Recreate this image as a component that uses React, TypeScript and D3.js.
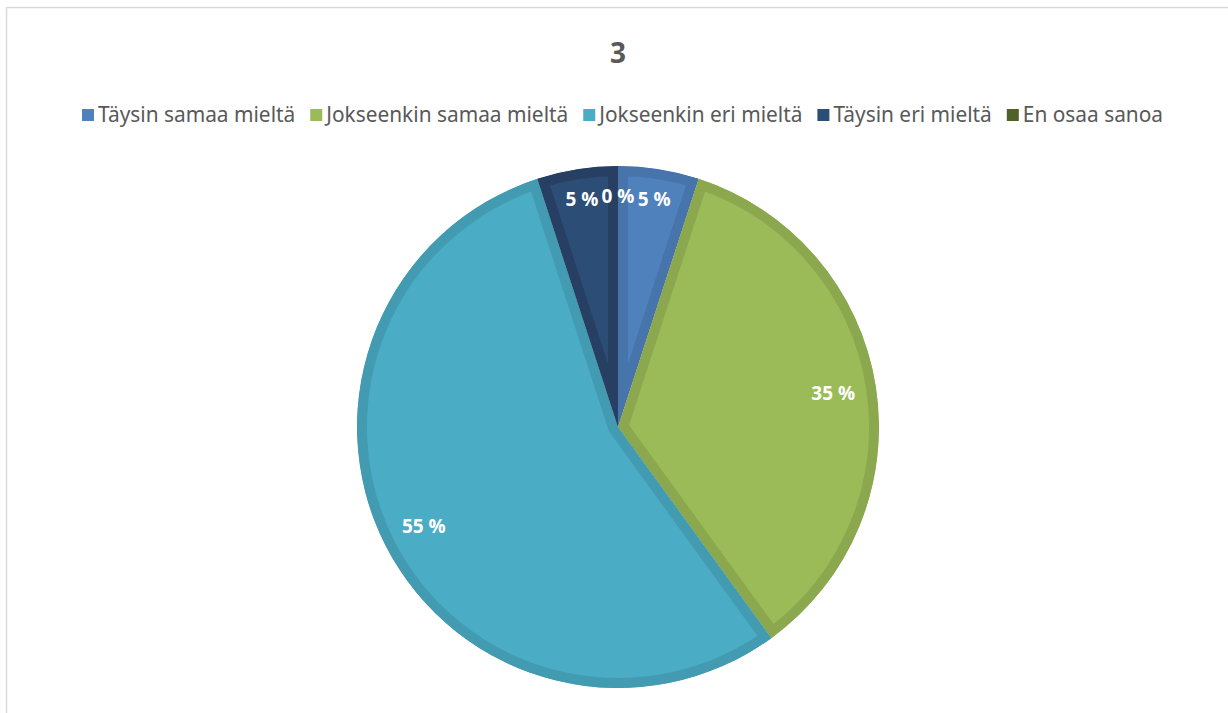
import { useEffect, useRef } from 'react';
import * as d3 from 'd3';

const categories = ['Täysin samaa mieltä', 'Jokseenkin samaa mieltä', 'Jokseenkin eri mieltä', 'Täysin eri mieltä', 'En osaa sanoa'];
const values = [5, 35, 55, 5, 0];
const fills = ['#4F81BD', '#9BBB59', '#4BACC6', '#2C4D75', '#4F6228'];
const borders = ['#4674AB', '#8BA84F', '#439BB2', '#273F62', '#465724'];
const title = '3';

function App() {
  const svgRef = useRef();

  useEffect(() => {
    const w = 1228;
    const h = 713;
    const svg = d3.select(svgRef.current);
    svg.selectAll('*').remove();
    svg.attr('width', w).attr('height', h);

    // frame
    svg.append('path')
      .attr('d', 'M6.5,713 L6.5,7.5 L1228,7.5')
      .attr('fill', 'none')
      .attr('stroke', '#d9d9d9')
      .attr('stroke-width', 1.5);

    svg.append('text')
      .attr('x', 618)
      .attr('y', 63)
      .attr('text-anchor', 'middle')
      .attr('font-family', 'Open Sans, sans-serif')
      .attr('font-weight', 'bold')
      .attr('font-size', 28)
      .attr('fill', '#595959')
      .text(title);

    // legend, text sized so the row spans like the original
    const legend = svg.append('g');
    const texts = [];
    const items = categories.map((c, i) => {
      const g = legend.append('g');
      g.append('rect').attr('x', 0).attr('y', -6).attr('width', 12).attr('height', 12).attr('fill', fills[i]);
      const t = g.append('text')
        .attr('x', 16)
        .attr('y', 6.5)
        .attr('font-family', 'Noto Sans, sans-serif')
        .attr('font-size', 18)
        .attr('fill', '#595959')
        .text(c);
      texts.push(t);
      return g;
    });
    const gaps = categories.length * 16 + (categories.length - 1) * 15;
    const base = d3.sum(texts, t => t.node().getComputedTextLength());
    const fs = 18 * (1082 - gaps) / base;
    texts.forEach(t => t.attr('font-size', fs).attr('y', 7));
    let x = 0;
    items.forEach((g, i) => {
      g.attr('transform', `translate(${x},0)`);
      x += 16 + texts[i].node().getComputedTextLength() + 15;
    });
    legend.attr('transform', `translate(82,115)`);

    // pie
    const cx = 618, cy = 427, r = 261;
    const pie = d3.pie().sort(null).value(d => d);
    const arcs = pie(values);
    const arc = d3.arc().innerRadius(0).outerRadius(r);
    const g = svg.append('g').attr('transform', `translate(${cx},${cy})`);
    const defs = svg.append('defs');

    arcs.forEach((a, i) => {
      if (a.endAngle - a.startAngle <= 0) return;
      const id = 'clip' + i;
      defs.append('clipPath').attr('id', id).append('path').attr('d', arc(a));
      g.append('path')
        .attr('d', arc(a))
        .attr('fill', fills[i])
        .attr('stroke', borders[i])
        .attr('stroke-width', 20)
        .attr('stroke-linejoin', 'miter')
        .attr('clip-path', `url(#${id})`);
    });

    arcs.forEach((a, i) => {
      const frac = (a.endAngle - a.startAngle) / (2 * Math.PI);
      const lr = frac < 0.1 ? r * 0.885 : r * 0.835;
      const mid = (a.startAngle + a.endAngle) / 2;
      g.append('text')
        .attr('x', lr * Math.sin(mid))
        .attr('y', -lr * Math.cos(mid))
        .attr('dy', '0.35em')
        .attr('text-anchor', 'middle')
        .attr('font-family', 'Open Sans, sans-serif')
        .attr('font-weight', 'bold')
        .attr('font-size', 19)
        .attr('fill', '#ffffff')
        .text(values[i] + ' %');
    });
  }, []);

  return (
    <div>
      <svg ref={svgRef} style={{ position: 'absolute', left: 0, top: 0 }}></svg>
    </div>
  );
}

export default App;
